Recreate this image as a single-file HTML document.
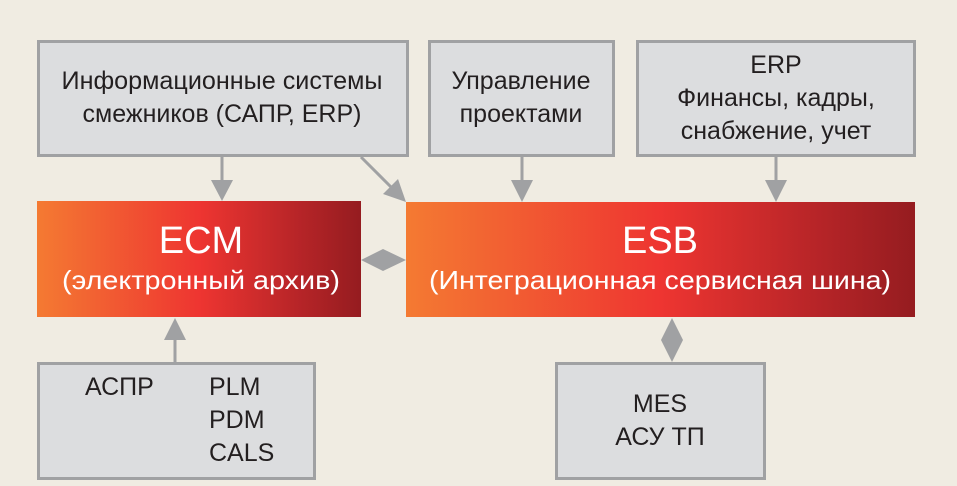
<!DOCTYPE html>
<html><head><meta charset="utf-8"><style>
html,body{margin:0;padding:0;background:#f0ece2;}
svg{display:block;}
text{font-family:"Liberation Sans","DejaVu Sans",sans-serif;}
</style></head><body>
<svg width="957" height="486" viewBox="0 0 957 486" xmlns="http://www.w3.org/2000/svg">
<defs>
<linearGradient id="g" x1="0" x2="1" y1="0" y2="0">
<stop offset="0" stop-color="#f47a32"/>
<stop offset="0.5" stop-color="#ee3531"/>
<stop offset="0.8" stop-color="#b82528"/>
<stop offset="1" stop-color="#951c20"/>
</linearGradient>
</defs>
<rect width="957" height="486" fill="#f0ece2"/>
<g fill="#dcdddf" stroke="#a0a1a3" stroke-width="3">
<rect x="38.5" y="41.5" width="369" height="114"/>
<rect x="429.5" y="41.5" width="184" height="114"/>
<rect x="637.5" y="41.5" width="277" height="114"/>
<rect x="38.5" y="363.5" width="276" height="115"/>
<rect x="556.5" y="363.5" width="208" height="115"/>
</g>
<rect x="37" y="201" width="324" height="116" fill="url(#g)"/>
<rect x="406" y="202" width="509" height="115" fill="url(#g)"/>
<g stroke="#a0a1a3" stroke-width="3" fill="none">
<line x1="222" y1="157" x2="222" y2="182"/>
<line x1="522" y1="157" x2="522" y2="182"/>
<line x1="776" y1="157" x2="776" y2="182"/>
<line x1="361" y1="157" x2="392" y2="188"/>
<line x1="175" y1="362" x2="175" y2="338"/>
</g>
<g fill="#a0a1a3">
<polygon points="211,180 233,180 222,201"/>
<polygon points="511,180 533,180 522,202"/>
<polygon points="765,180 787,180 776,202"/>
<polygon points="383,194 398,179 406,202"/>
<polygon points="164,340 186,340 175,318"/>
<polygon points="361,260 383,249 406,260 383,271"/>
<polygon points="672,318 683,340 672,362 661,340"/>
</g>
<g font-size="25" fill="#231f20" text-anchor="middle">
<text x="222" y="89" textLength="321" lengthAdjust="spacingAndGlyphs">Информационные системы</text>
<text x="222" y="122">смежников (САПР, ERP)</text>
<text x="521" y="89">Управление</text>
<text x="521" y="122">проектами</text>
<text x="776" y="73">ERP</text>
<text x="776" y="106">Финансы, кадры,</text>
<text x="776" y="139">снабжение, учет</text>
<text x="660" y="412">MES</text>
<text x="660" y="445">АСУ ТП</text>
</g>
<g font-size="25" fill="#231f20">
<text x="85" y="395">АСПР</text>
<text x="209" y="395">PLM</text>
<text x="209" y="428">PDM</text>
<text x="209" y="461">CALS</text>
</g>
<g fill="#ffffff" text-anchor="middle">
<text x="201" y="253" font-size="38">ECM</text>
<text x="201" y="289" font-size="26" textLength="278" lengthAdjust="spacingAndGlyphs">(электронный архив)</text>
<text x="660" y="253" font-size="38">ESB</text>
<text x="660" y="289" font-size="26" textLength="462" lengthAdjust="spacingAndGlyphs">(Интеграционная сервисная шина)</text>
</g>
</svg>
</body></html>
